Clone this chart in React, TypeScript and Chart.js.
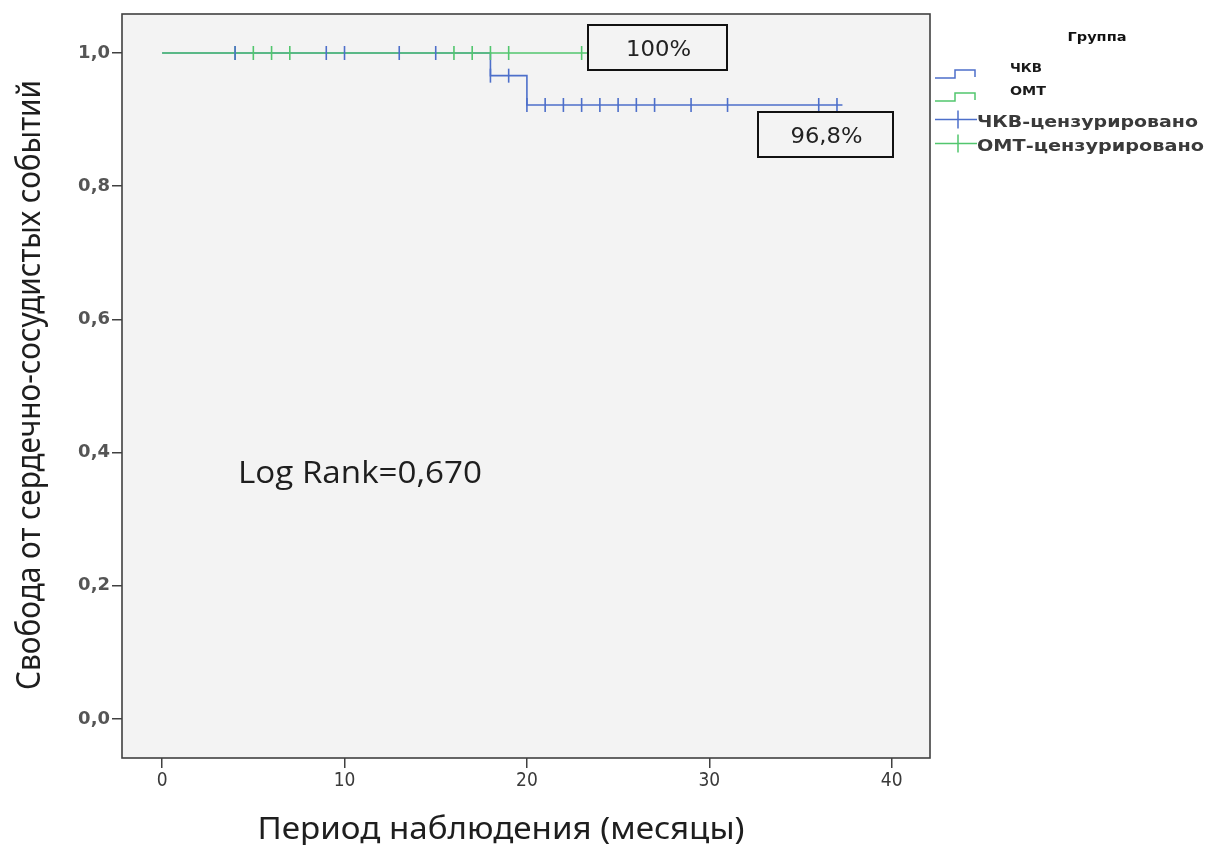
import React, { useEffect, useRef } from 'react';
import { Chart, registerables } from 'chart.js';
Chart.register(...registerables);

// ---- Data ----
const pciEventTimes = [0, 18, 20];
const pciSurvival = [1.0, 0.966, 0.922];
const pciEndTime = 37.3;
const pciCensored = [4, 9, 10, 13, 15, 18, 19, 20, 21, 22, 23, 24, 25, 26, 27, 29, 31, 36, 37];

const omtEventTimes = [0];
const omtSurvival = [1.0];
const omtEndTime = 23.3;
const omtCensored = [4, 5, 6, 7, 16, 17, 18, 19, 23];

const xTicks = [0, 10, 20, 30, 40];
const yTicks = [0, 0.2, 0.4, 0.6, 0.8, 1.0];

const groupTitle = 'Группа';
const groupNames = ['ЧКВ', 'ОМТ'];
const censoredNames = ['ЧКВ-цензурировано', 'ОМТ-цензурировано'];
const finalLabels = ['100%', '96,8%'];
const logRankText = 'Log Rank=0,670';
const xTitle = 'Период наблюдения (месяцы)';
const yTitle = 'Свобода от сердечно-сосудистых событий';

const BLUE = '#4d6fca';
const GREEN = '#52c66e';

function curvePoints(times: number[], surv: number[], end: number) {
  const pts = times.map((t, i) => ({ x: t, y: surv[i] }));
  pts.push({ x: end, y: surv[surv.length - 1] });
  return pts;
}
function survivalAt(times: number[], surv: number[], t: number) {
  let v = surv[0];
  for (let i = 0; i < times.length; i++) if (times[i] <= t) v = surv[i];
  return v;
}

function fitText(ctx: CanvasRenderingContext2D, text: string, x: number, y: number, font: string, width: number, align: CanvasTextAlign) {
  ctx.save();
  ctx.font = font;
  ctx.textAlign = align;
  ctx.textBaseline = 'alphabetic';
  const w = ctx.measureText(text).width;
  ctx.translate(x, y);
  ctx.scale(width / w, 1);
  ctx.fillText(text, 0, 0);
  ctx.restore();
}

const overlayPlugin = {
  id: 'overlay',
  beforeDraw(chart: any) {
    const { ctx, chartArea: a } = chart;
    ctx.save();
    ctx.fillStyle = '#f3f3f3';
    ctx.fillRect(a.left, a.top, a.right - a.left, a.bottom - a.top);
    ctx.restore();
  },
  afterDraw(chart: any) {
    const { ctx, chartArea: a } = chart;
    ctx.save();
    // plot frame
    ctx.strokeStyle = '#404040';
    ctx.lineWidth = 1.6;
    ctx.strokeRect(a.left, a.top, a.right - a.left, a.bottom - a.top);

    // axis titles
    ctx.fillStyle = '#1e1e1e';
    fitText(ctx, xTitle, 501, 839, '30px "Noto Sans", "Open Sans", sans-serif', 487, 'center');
    ctx.save();
    ctx.translate(40, 385);
    ctx.rotate(-Math.PI / 2);
    fitText(ctx, yTitle, 0, 0, '33px "Noto Sans", "Open Sans", sans-serif', 610, 'center');
    ctx.restore();

    // Log rank
    fitText(ctx, logRankText, 238, 483, '31px "Open Sans", "Noto Sans", sans-serif', 244, 'left');

    // Boxes
    const boxes = [
      { x: 588, y: 25, w: 139, h: 45, text: finalLabels[0] },
      { x: 758, y: 112, w: 135, h: 45, text: finalLabels[1] },
    ];
    boxes.forEach((b) => {
      ctx.fillStyle = '#f3f3f3';
      ctx.fillRect(b.x, b.y, b.w, b.h);
      ctx.strokeStyle = '#111';
      ctx.lineWidth = 2;
      ctx.strokeRect(b.x, b.y, b.w, b.h);
      ctx.fillStyle = '#222';
      fitText(ctx, b.text, b.x + b.w / 2 + 1, b.y + b.h / 2 + 8, '21px "DejaVu Sans", sans-serif', b.text.length === 4 ? 65 : 72, 'center');
    });

    // Legend
    ctx.fillStyle = '#111';
    fitText(ctx, groupTitle, 1097, 41, 'bold 13px "DejaVu Sans", sans-serif', 59, 'center');

    const colors = [BLUE, GREEN];
    ctx.lineWidth = 1.5;
    [0, 1].forEach((i) => {
      const y = 78 + i * 23;
      ctx.strokeStyle = colors[i];
      ctx.beginPath();
      ctx.moveTo(935, y);
      ctx.lineTo(955, y);
      ctx.lineTo(955, y - 8);
      ctx.lineTo(975, y - 8);
      ctx.lineTo(975, y - 1);
      ctx.stroke();
      ctx.fillStyle = '#1a1a1a';
      fitText(ctx, groupNames[i], 1010, y - 6, 'bold 13px "DejaVu Sans", sans-serif', i === 0 ? 32 : 36, 'left');
    });
    [0, 1].forEach((i) => {
      const y = 119.5 + i * 24;
      ctx.strokeStyle = colors[i];
      ctx.beginPath();
      ctx.moveTo(935, y);
      ctx.lineTo(977, y);
      ctx.moveTo(958, y - 9);
      ctx.lineTo(958, y + 9);
      ctx.stroke();
      ctx.fillStyle = '#3a3a3a';
      fitText(ctx, censoredNames[i], 977, y + 7, 'bold 16px "DejaVu Sans", sans-serif', i === 0 ? 221 : 227, 'left');
    });
    ctx.restore();
  },
};

export default function App() {
  const ref = useRef<HTMLCanvasElement>(null);
  useEffect(() => {
    if (!ref.current) return;
    const censorSet = (times: number[], ev: number[], sv: number[], color: string) => ({
      type: 'line' as const,
      data: times.map((t) => ({ x: t, y: survivalAt(ev, sv, t) })),
      showLine: false,
      pointStyle: 'line' as const,
      rotation: 90,
      pointRadius: 7,
      pointHoverRadius: 7,
      pointBorderWidth: 1.6,
      pointBorderColor: color,
      borderColor: color,
      backgroundColor: color,
    });
    const chart = new Chart(ref.current, {
      type: 'line',
      data: {
        datasets: [
          censorSet(pciCensored, pciEventTimes, pciSurvival, BLUE),
          censorSet(omtCensored, omtEventTimes, omtSurvival, GREEN),
          {
            label: groupNames[1],
            data: curvePoints(omtEventTimes, omtSurvival, omtEndTime),
            stepped: true,
            borderColor: GREEN,
            borderWidth: 1.6,
            pointRadius: 0,
          },
          {
            label: groupNames[0],
            data: curvePoints(pciEventTimes, pciSurvival, pciEndTime),
            stepped: true,
            borderColor: BLUE,
            borderWidth: 1.6,
            pointRadius: 0,
          },
        ] as any,
      },
      options: {
        animation: false,
        responsive: false,
        layout: { padding: { top: 14, right: 280, left: 0, bottom: 0 } },
        plugins: { legend: { display: false }, tooltip: { enabled: false } },
        events: [],
        scales: {
          x: {
            type: 'linear',
            min: -2.2,
            max: 42.1,
            afterBuildTicks: (s: any) => {
              s.ticks = xTicks.map((v) => ({ value: v }));
            },
            afterFit: (s: any) => {
              s.height = 87;
            },
            grid: { drawOnChartArea: false, drawTicks: true, tickLength: 10, tickColor: '#404040', lineWidth: 1.5 },
            border: { display: false },
            ticks: {
              padding: 2,
              color: '#3a3a3a',
              font: { family: '"DejaVu Sans Condensed", "Liberation Sans Narrow", "Noto Sans", sans-serif', size: 19 },
              callback: (v: any) => String(v),
            },
          },
          y: {
            type: 'linear',
            min: -0.0586,
            max: 1.0586,
            afterBuildTicks: (s: any) => {
              s.ticks = yTicks.map((v) => ({ value: v }));
            },
            afterFit: (s: any) => {
              s.width = 122;
            },
            grid: { drawOnChartArea: false, drawTicks: true, tickLength: 10, tickColor: '#404040', lineWidth: 1.5 },
            border: { display: false },
            ticks: {
              padding: 2,
              color: '#555',
              font: { family: '"DejaVu Sans", sans-serif', size: 18, weight: 'bold' },
              callback: (v: any) => Number(v).toFixed(1).replace('.', ','),
            },
          },
        },
      },
      plugins: [overlayPlugin],
    });
    return () => chart.destroy();
  }, []);
  return (
    <div style={{ position: 'fixed', left: 0, top: 0, width: 1210, height: 845, background: '#fff' }}>
      <canvas ref={ref} width={1210} height={845} style={{ display: 'block', width: 1210, height: 845 }} />
    </div>
  );
}
